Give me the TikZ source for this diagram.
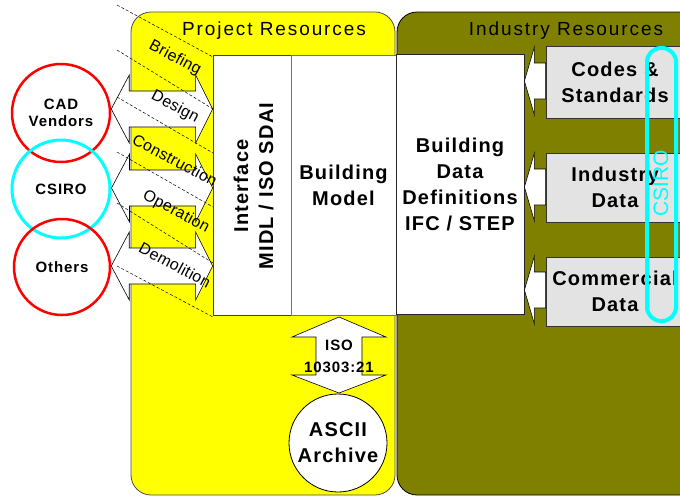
\documentclass[tikz,border=0pt]{standalone}
\usepackage{fontspec}
\setmainfont{Liberation Sans}
\newfontfamily\fA[LetterSpace=6]{Liberation Sans}
\newfontfamily\fH[LetterSpace=10]{Liberation Sans}
\newfontfamily\fP[LetterSpace=2]{Liberation Sans}
\usetikzlibrary{calc}
\definecolor{yel}{RGB}{255,255,0}
\definecolor{oliv}{RGB}{128,128,0}
\definecolor{cyn}{RGB}{0,255,255}
\definecolor{rd}{RGB}{255,0,0}
\definecolor{lgrey}{RGB}{227,227,227}
\newcommand\hdbl[2]{\draw[fat] (#1) -- ($(#1)+(18,-34)$) -- ($(#1)+(18,-18)$) -- ($(#2)+(-17,-18)$) -- ($(#2)+(-17,-34)$) -- (#2) -- ($(#2)+(-17,34)$) -- ($(#2)+(-17,18)$) -- ($(#1)+(18,18)$) -- ($(#1)+(18,34)$) -- cycle;}
\newcommand\lftarrow[2]{\draw[fat] (#1) -- ($(#1)+(10,-34)$) -- ($(#1)+(10,-18)$) -- ($(#2)+(0,-18)$) -- ($(#2)+(0,18)$) -- ($(#1)+(10,18)$) -- ($(#1)+(10,34)$) -- cycle;}
\tikzset{
 panel/.style={rounded corners=20pt, line width=0.8pt},
 whitebox/.style={fill=white, line width=0.8pt, inner sep=0pt, align=center, font=\fA\bfseries\fontsize{20}{26}\selectfont},
 greybox/.style={draw=black!80, fill=lgrey, line width=0.8pt, inner sep=0pt, minimum width=138pt, align=center, font=\fA\bfseries\fontsize{20}{26}\selectfont},
 fat/.style={draw=black, fill=white, line width=0.6pt, line join=miter},
 dashline/.style={draw=black, dash pattern=on 3pt off 2pt, line width=0.5pt},
 phase/.style={rotate=-28, font=\fP\fontsize{16}{19}\selectfont, inner sep=0pt},
 blabel/.style={font=\fA\bfseries\fontsize{20}{26}\selectfont, align=center, inner sep=0pt},
 party/.style={circle, line width=2.5pt, minimum size=98pt, inner sep=0pt, align=center, font=\fA\bfseries\fontsize{15}{17}\selectfont},
 hdr/.style={anchor=base, font=\fH\fontsize{19}{22}\selectfont, inner sep=0pt},
}
\begin{document}
\begin{tikzpicture}[x=1pt,y=-1pt]
\useasboundingbox (0,0) rectangle (680,496);
\clip (0,0) rectangle (680,496);
% panels
\draw[panel, fill=yel, draw=black!70] (131,12) rectangle (395,495);
\draw[panel, fill=oliv, draw=black] (397,12) rectangle (740,495);
\node[hdr] (projhdr) at (274,35) {Project Resources};
\node[hdr] (indhdr) at (566,35) {Industry Resources};
% central boxes
\node[whitebox, draw=black!75, minimum width=78pt, minimum height=260pt] (iface) at (252,185) {};
\node[whitebox, draw=black!55, minimum width=105pt, minimum height=260pt] (bmodel) at (343.5,185) {Building\\Model};
\node[whitebox, draw=black!85, minimum width=128pt, minimum height=260pt] (bdd) at (460,184) {Building\\Data\\Definitions\\IFC / STEP};
\node[blabel, rotate=90, anchor=base] (iftxt1) at (248,186) {Interface};
\node[blabel, rotate=90, anchor=base] (iftxt2) at (273,186) {MIDL / ISO SDAI};
% parties
\node[party, draw=rd] (cad) at (61,113) {CAD\\Vendors};
\node[party, draw=cyn, line width=3pt] (csiro) at (61,189) {CSIRO};
\node[party, draw=rd, minimum size=96pt] (others) at (62,267) {Others};
% double arrows
\coordinate (a1l) at (cad.east |- 0,109);
\coordinate (a1r) at (iface.west |- 0,109);
\coordinate (a2l) at (csiro.east |- 0,188);
\coordinate (a2r) at (iface.west |- 0,188);
\coordinate (a3l) at (others.east |- 0,266);
\coordinate (a3r) at (iface.west |- 0,266);
\hdbl{a1l}{a1r}
\hdbl{a2l}{a2r}
\hdbl{a3l}{a3r}
% dashed lines
\draw[dashline] (117,5) -- (213,57);
\draw[dashline] (117,50) -- (213,109);
\draw[dashline] (117,97) -- (213,153);
\draw[dashline] (117,152) -- (213,207);
\draw[dashline] (117,203) -- (213,263);
\draw[dashline] (117,266) -- (213,317);
% phases
\node[phase] (briefing) at (175,58) {Briefing};
\node[phase] (design) at (175,107) {Design};
\node[phase] (construction) at (175,160) {Construction};
\node[phase] (operation) at (176,212) {Operation};
\node[phase] (demolition) at (175,265) {Demolition};
% industry boxes
\node[greybox, minimum height=72pt] (codes) at (615,82) {Codes \&\\Standards};
\node[greybox, minimum height=69pt] (inddata) at (615,187.5) {Industry\\Data};
\node[greybox, minimum height=69pt] (comm) at (615,291.5) {Commercial\\Data};
\coordinate (t1) at (bdd.east |- 0,81);
\coordinate (b1) at (codes.west |- 0,81);
\coordinate (t2) at (bdd.east |- 0,187);
\coordinate (b2) at (inddata.west |- 0,187);
\coordinate (t3) at (bdd.east |- 0,290);
\coordinate (b3) at (comm.west |- 0,290);
\lftarrow{t1}{b1}
\lftarrow{t2}{b2}
\lftarrow{t3}{b3}
% CSIRO band
\draw[cyn, line width=4pt, rounded corners=14pt] (647,48) rectangle (676,321);
\node[rotate=90, text=cyn, font=\fontsize{21}{24}\selectfont, inner sep=0pt] (csirotxt) at (661,183) {CSIRO};
% archive
\node[circle, draw=black, fill=white, line width=0.8pt, minimum size=98pt, blabel] (archive) at (338,443) {ASCII\\Archive};
\coordinate (isot) at (339,317);
\coordinate (isob) at (339,393);
\draw[fat] (isot) -- ++(47,20) -- ++(-24,0) -- ++(0,38) -- ++(24,0) -- (isob) -- ++(-47,-18) -- ++(24,0) -- ++(0,-38) -- ++(-24,0) -- cycle;
\node[font=\fA\bfseries\fontsize{15}{22}\selectfont, align=center, inner sep=0pt] (isotxt) at (339,356) {ISO\\10303:21};
\end{tikzpicture}
\end{document}
